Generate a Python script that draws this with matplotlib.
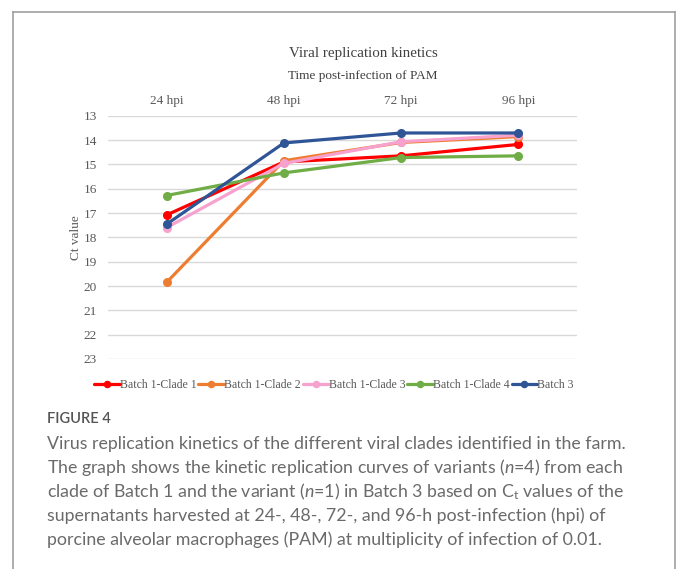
import matplotlib
matplotlib.use("Agg")
import matplotlib.pyplot as plt
from matplotlib.lines import Line2D
import numpy as np

## Data
times = ["24 hpi", "48 hpi", "72 hpi", "96 hpi"]
clade1 = [17.08, 14.90, 14.65, 14.18]
clade2 = [19.85, 14.85, 14.10, 13.86]
clade3 = [17.60, 14.96, 14.07, 13.80]
clade4 = [16.28, 15.35, 14.72, 14.65]
batch3 = [17.46, 14.12, 13.71, 13.71]
yticks = list(range(13, 24))

series = [("Batch 1-Clade 1", clade1, "#FF0000"),
          ("Batch 1-Clade 2", clade2, "#ED7D31"),
          ("Batch 1-Clade 3", clade3, "#F7A1CF"),
          ("Batch 1-Clade 4", clade4, "#70AD47"),
          ("Batch 3", batch3, "#2F5597")]

plt.rcParams['mathtext.fontset'] = 'custom'
plt.rcParams['mathtext.rm'] = 'Lato'
plt.rcParams['mathtext.it'] = 'Lato:italic'

W, H = 682, 569
fig = plt.figure(figsize=(W/100, H/100), dpi=100)
ax = fig.add_axes([108/W, 1-359/H, 469/W, (359-115.7)/H])

x = np.arange(len(times)) + 0.5
for name, vals, col in series:
    ax.plot(x, vals, color=col, lw=2.3, marker='o', ms=5.5, label=name,
            solid_capstyle='round')

ax.set_xlim(0, len(times))
ax.set_ylim(23, 13)
ax.set_yticks(yticks)
ax.set_xticks(x)
ax.set_xticklabels(times)
ax.xaxis.tick_top()
ax.tick_params(length=0, labelsize=9.5, labelcolor="#595959", pad=8)
for lab in ax.get_xticklabels() + ax.get_yticklabels():
    lab.set_family("Liberation Serif")
ax.tick_params(axis='x', pad=6)
ax.grid(axis='y', color="#D9D9D9", lw=1)
ax.set_axisbelow(True)
for s in ax.spines.values():
    s.set_visible(False)
ax.set_ylabel("Ct value", family="Liberation Serif", fontsize=9.5, color="#595959")
ax.yaxis.set_label_coords(-0.056, 0.5)

fig.text(363/W, 1-54/H, "Viral replication kinetics", ha='center', va='center',
         family="Liberation Serif", fontsize=10.8, color="#404040")
fig.text(363/W, 1-76/H, "Time post-infection of PAM", ha='center', va='center',
         family="Liberation Serif", fontsize=9.5, color="#404040")

leg = fig.legend(loc='center', bbox_to_anchor=(334/W, 1-385/H), ncol=5, frameon=False,
                 prop={'family': 'Liberation Serif', 'size': 8.5}, handlelength=2.2,
                 handletextpad=0.0, columnspacing=0.15, markerscale=0.8)
for t in leg.get_texts():
    t.set_color("#595959")

## caption
fig.text(47/W, 1-419/H, "FIGURE 4", family="Lato", fontsize=10.5, color="#555555",
         va='center', weight='semibold')
cap = ["Virus replication kinetics of the different viral clades identified in the farm.",
       "The graph shows the kinetic replication curves of variants ($\\it{n}$=4) from each",
       "clade of Batch 1 and the variant ($\\it{n}$=1) in Batch 3 based on C$_\\mathrm{t}$ values of the",
       "supernatants harvested at 24-, 48-, 72-, and 96-h post-infection (hpi) of",
       "porcine alveolar macrophages (PAM) at multiplicity of infection of 0.01."]
for i, line in enumerate(cap):
    fig.text(47/W, 1-(444+24*i)/H, line, family="Lato", fontsize=12.8, color="#6a6a6a",
             va='center')

## frame
fc = "#A0A0A0"
fig.add_artist(Line2D([13/W, 13/W], [0, 1-12/H], color=fc, lw=1.2, transform=fig.transFigure))
fig.add_artist(Line2D([13/W, 675/W], [1-12/H, 1-12/H], color=fc, lw=1.2, transform=fig.transFigure))
fig.add_artist(Line2D([675/W, 675/W], [0, 1-12/H], color=fc, lw=1.2, transform=fig.transFigure))

fig.savefig("out.png", dpi=100)
